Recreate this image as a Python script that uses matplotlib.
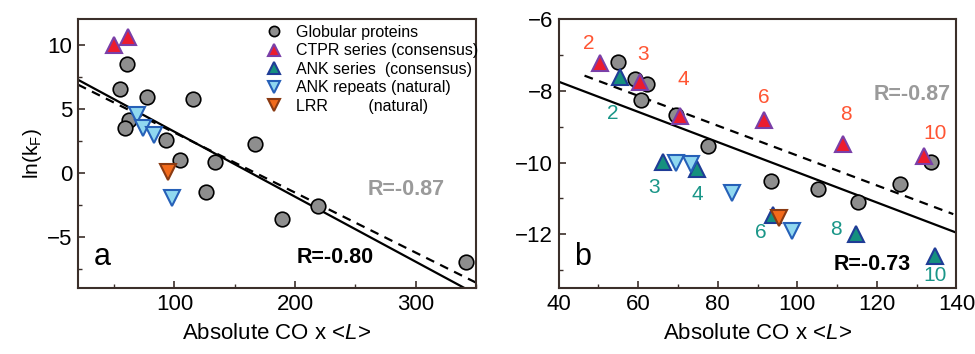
import numpy as np
import matplotlib
matplotlib.use('Agg')
import matplotlib.pyplot as plt

plt.rcParams['font.family'] = ['Liberation Sans', 'DejaVu Sans']
plt.rcParams['mathtext.fontset'] = 'custom'
plt.rcParams['mathtext.rm'] = 'Liberation Sans'
plt.rcParams['mathtext.it'] = 'Liberation Sans:italic'

# ---- panel a data ----
a_glob_x = [60.7, 54.9, 77, 115.2, 62, 59.3, 93.1, 166.7, 105, 133.5, 126, 218.7, 189, 341.5]
a_glob_y = [8.5, 6.56, 5.9, 5.73, 4.14, 3.54, 2.58, 2.29, 0.99, 0.81, -1.51, -2.58, -3.57, -6.95]
a_ctpr_x = [49.6, 61.3]
a_ctpr_y = [10.0, 10.6]
a_anknat_x = [68.7, 73.7, 83.4, 98.1]
a_anknat_y = [4.5, 3.49, 2.92, -1.98]
a_lrr_x = [95]
a_lrr_y = [0.1]
# fit lines (slope, intercept)
a_fit_all = (-0.0507, 8.28)
a_fit_glob = (-0.0468, 7.82)

# ---- panel b data ----
b_glob_x = [54.8, 59.3, 62.3, 60.7, 69.5, 77.5, 93.4, 105.3, 115.2, 125.7, 133.7]
b_glob_y = [-7.2, -7.68, -7.81, -8.25, -8.67, -9.55, -10.52, -10.73, -11.09, -10.59, -9.99]
b_ctpr_x = [50.3, 60.4, 70.5, 91.5, 111.5, 131.8]
b_ctpr_y = [-7.23, -7.74, -8.69, -8.82, -9.48, -9.82]
b_ctpr_lab = ['2', '3', '4', '6', '8', '10']
b_ctpr_lab_x = [47.6, 61.2, 71.3, 91.5, 112.2, 134.5]
b_ctpr_lab_y = [-6.68, -7.0, -7.69, -8.18, -8.65, -9.18]
b_ank_x = [55.4, 66.3, 74.8, 94.0, 114.8, 134.5]
b_ank_y = [-7.6, -9.98, -10.18, -11.47, -12.0, -12.6]
b_ank_lab = ['2', '3', '4', '6', '8', '10']
b_ank_lab_x = [53.5, 64.0, 74.8, 90.8, 109.7, 134.5]
b_ank_lab_y = [-8.62, -10.7, -10.89, -11.95, -11.86, -13.14]
b_anknat_x = [69.6, 73.2, 83.6, 98.6]
b_anknat_y = [-10.0, -10.04, -10.84, -11.9]
b_lrr_x = [95.5]
b_lrr_y = [-11.54]
b_fit_all = (-0.0421, -6.06)
b_fit_glob = (-0.04164, -5.64)

# styles
glob_kw = dict(ls='none', marker='o', ms=10.5, mfc='#8e8e8e', mec='black', mew=1.2)
ctpr_kw = dict(ls='none', marker='^', ms=11.5, mfc='#ec1c2e', mec='#7a3fa8', mew=1.5)
ank_kw = dict(ls='none', marker='^', ms=11.5, mfc='#15907e', mec='#1f3c96', mew=1.5)
anknat_kw = dict(ls='none', marker='v', ms=11.5, mfc='#90d8f0', mec='#2660b8', mew=1.5)
lrr_kw = dict(ls='none', marker='v', ms=11.5, mfc='#f26a1b', mec='#8a3a12', mew=1.5)
spine_c = '#3b2f2a'

fig = plt.figure(figsize=(9.75, 3.54), dpi=100)
ax1 = fig.add_axes([0.080, 0.186, 0.408, 0.760])
ax2 = fig.add_axes([0.573, 0.186, 0.408, 0.760])

for ax in (ax1, ax2):
    for s in ax.spines.values():
        s.set_color(spine_c)
        s.set_linewidth(1.5)
    ax.tick_params(which='both', direction='in', color=spine_c, labelsize=16, pad=4)
    ax.tick_params(which='major', length=5, width=1.2)
    ax.tick_params(which='minor', length=3, width=1.0)
    ax.tick_params(top=False, right=False)

# ---- panel a ----
xs = np.array([20, 350])
ax1.plot(xs, a_fit_all[0] * xs + a_fit_all[1], color='black', lw=1.6, zorder=2)
ax1.plot(xs, a_fit_glob[0] * xs + a_fit_glob[1], color='black', lw=1.6, ls=(0, (4, 3)), zorder=2)
ax1.plot(a_glob_x, a_glob_y, label='Globular proteins', zorder=3, **glob_kw)
ax1.plot(a_ctpr_x, a_ctpr_y, label='CTPR series (consensus)', zorder=4, **ctpr_kw)
ax1.plot([], [], label='ANK series  (consensus)', **ank_kw)
ax1.plot(a_anknat_x, a_anknat_y, label='ANK repeats (natural)', zorder=4, **anknat_kw)
ax1.plot(a_lrr_x, a_lrr_y, label='LRR         (natural)', zorder=4, **lrr_kw)
ax1.set_xlim(20, 350)
ax1.set_ylim(-9, 12)
ax1.set_xticks([100, 200, 300])
ax1.set_xticks([50, 150, 250, 350], minor=True)
ax1.set_yticks([-5, 0, 5, 10])
ax1.set_yticks([-7.5, -2.5, 2.5, 7.5], minor=True)
ax1.set_xlabel('Absolute CO x <$\\mathit{L}$>', fontsize=16, labelpad=6)
ax1.set_ylabel('ln(k$_\\mathregular{F}$)', fontsize=15, labelpad=2)
ax1.text(292, -1.33, 'R=-0.87', color='#9a9a9a', fontsize=15.5, fontweight='bold', ha='center', va='center')
ax1.text(233, -6.6, 'R=-0.80', color='black', fontsize=15.5, fontweight='bold', ha='center', va='center')
ax1.text(0.04, 0.06, 'a', transform=ax1.transAxes, fontsize=22, ha='left', va='bottom')
leg = ax1.legend(loc='upper right', bbox_to_anchor=(1.035, 1.02), frameon=False, fontsize=11.5,
                 handletextpad=0.6, handlelength=1.6, labelspacing=0.22, borderaxespad=0.3,
                 markerscale=0.7)

# ---- panel b ----
xs = np.array([40, 140])
ax2.plot(xs, b_fit_all[0] * xs + b_fit_all[1], color='black', lw=1.6, zorder=2)
xd = np.array([46.5, 139.2])
ax2.plot(xd, b_fit_glob[0] * xd + b_fit_glob[1], color='black', lw=1.6, ls=(0, (4, 3)), zorder=2)
ax2.plot(b_glob_x, b_glob_y, zorder=3, **glob_kw)
ax2.plot(b_ctpr_x, b_ctpr_y, zorder=4, **ctpr_kw)
ax2.plot(b_ank_x, b_ank_y, zorder=4, **ank_kw)
ax2.plot(b_anknat_x, b_anknat_y, zorder=4, **anknat_kw)
ax2.plot(b_lrr_x, b_lrr_y, zorder=5, **lrr_kw)
for t, x, y in zip(b_ctpr_lab, b_ctpr_lab_x, b_ctpr_lab_y):
    ax2.text(x, y, t, color='#ff5533', fontsize=15, ha='center', va='center')
for t, x, y in zip(b_ank_lab, b_ank_lab_x, b_ank_lab_y):
    ax2.text(x, y, t, color='#1a9688', fontsize=15, ha='center', va='center')
ax2.set_xlim(40, 140)
ax2.set_ylim(-13.5, -6)
ax2.set_xticks([40, 60, 80, 100, 120, 140])
ax2.set_xticks([50, 70, 90, 110, 130], minor=True)
ax2.set_yticks([-12, -10, -8, -6])
ax2.set_yticks([-13, -11, -9, -7], minor=True)
ax2.set_xlabel('Absolute CO x <$\\mathit{L}$>', fontsize=16, labelpad=6)
ax2.text(128.8, -8.11, 'R=-0.87', color='#9a9a9a', fontsize=15.5, fontweight='bold', ha='center', va='center')
ax2.text(118.8, -12.85, 'R=-0.73', color='black', fontsize=15.5, fontweight='bold', ha='center', va='center')
ax2.text(0.04, 0.06, 'b', transform=ax2.transAxes, fontsize=22, ha='left', va='bottom')

fig.savefig('out.png', dpi=100)
